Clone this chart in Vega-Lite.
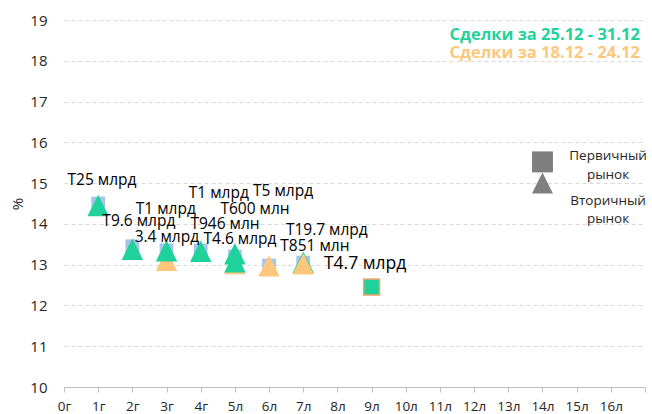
{
  "$schema": "https://vega.github.io/schema/vega-lite/v6.json",
  "width": 581,
  "height": 367,
  "autosize": {"type": "none"},
  "padding": {"left": 64, "top": 20, "right": 7, "bottom": 27},
  "background": "white",
  "config": {"view": {"stroke": null}, "font": "Open Sans"},
  "datasets": {
    "blue": [
      {"x": 1, "y": 14.5}, {"x": 2, "y": 13.45}, {"x": 3, "y": 13.35}, {"x": 4, "y": 13.35},
      {"x": 5, "y": 13.2}, {"x": 6, "y": 12.98}, {"x": 7, "y": 13.05}
    ],
    "tri": [
      {"x": 1, "y": 14.45, "s": "g"},
      {"x": 2, "y": 13.38, "s": "g"},
      {"x": 3, "y": 13.11, "s": "o"},
      {"x": 3, "y": 13.34, "s": "g"},
      {"x": 4, "y": 13.33, "s": "g"},
      {"x": 5, "y": 13.03, "s": "o"},
      {"x": 5, "y": 13.07, "s": "g"},
      {"x": 5, "y": 13.27, "s": "g"},
      {"x": 6, "y": 12.97, "s": "o"},
      {"x": 7, "y": 13.06, "s": "g"},
      {"x": 7, "y": 13.02, "s": "o"}
    ],
    "sq": [{"x": 9, "y": 12.45}],
    "leg": [
      {"x": 14, "y": 15.52, "shape": "square"},
      {"x": 14, "y": 15.0, "shape": "M0,-1L1,1L-1,1Z"}
    ],
    "ann": [
      {"x": 1.11, "y": 15.08, "t": "T25 млрд", "fs": 15.5},
      {"x": 2.19, "y": 14.07, "t": "T9.6 млрд", "fs": 15.5},
      {"x": 2.98, "y": 14.37, "t": "T1 млрд", "fs": 15.5},
      {"x": 3.01, "y": 13.68, "t": "3.4 млрд", "fs": 15.5},
      {"x": 4.53, "y": 14.76, "t": "T1 млрд", "fs": 15.5},
      {"x": 4.71, "y": 14.0, "t": "T946 млн", "fs": 15.5},
      {"x": 6.41, "y": 14.81, "t": "T5 млрд", "fs": 15.5},
      {"x": 5.59, "y": 14.37, "t": "T600 млн", "fs": 15.5},
      {"x": 5.15, "y": 13.63, "t": "T4.6 млрд", "fs": 15.5},
      {"x": 7.69, "y": 13.85, "t": "T19.7 млрд", "fs": 15.5},
      {"x": 7.34, "y": 13.46, "t": "T851 млн", "fs": 15.5},
      {"x": 8.81, "y": 13.02, "t": "T4.7 млрд", "fs": 17.5}
    ],
    "legtext": [
      {"x": 15.92, "y": 15.66, "t": "Первичный"},
      {"x": 15.92, "y": 15.2, "t": "рынок"},
      {"x": 15.92, "y": 14.56, "t": "Вторичный"},
      {"x": 15.92, "y": 14.12, "t": "рынок"}
    ],
    "top": [
      {"x": 16.85, "y": 18.62, "t": "Сделки за 25.12 - 31.12", "c": "g"},
      {"x": 16.85, "y": 18.19, "t": "Сделки за 18.12 - 24.12", "c": "o"}
    ]
  },
  "encoding": {
    "x": {
      "field": "x", "type": "quantitative",
      "scale": {"domain": [0, 17], "nice": false, "zero": false},
      "axis": {
        "values": [0,1,2,3,4,5,6,7,8,9,10,11,12,13,14,15,16,17],
        "labelExpr": "datum.value == 17 ? '' : (datum.value < 5 ? datum.value + 'г' : datum.value + 'л')",
        "grid": false, "title": null,
        "domainColor": "#bfbfbf", "tickColor": "#bfbfbf", "tickSize": 5,
        "labelFontSize": 13.5, "labelColor": "#262626", "labelPadding": 7,
        "labelOverlap": false, "labelFlush": false
      }
    },
    "y": {
      "field": "y", "type": "quantitative",
      "scale": {"domain": [10, 19], "nice": false, "zero": false},
      "axis": {
        "values": [10,11,12,13,14,15,16,17,18,19],
        "grid": true, "gridDash": [4, 3], "gridColor": "#d9d9d9",
        "domain": false, "ticks": false,
        "labelFontSize": 15, "labelColor": "#262626", "labelPadding": 17,
        "title": "%", "titleFontSize": 15, "titleFontWeight": "normal", "titleColor": "#262626",
        "titlePadding": 4
      }
    }
  },
  "layer": [
    {
      "data": {"name": "blue"},
      "mark": {"type": "point", "shape": "square", "filled": true, "size": 190, "color": "#a9c4ea", "opacity": 1}
    },
    {
      "data": {"name": "blue"},
      "mark": {"type": "point", "shape": "M0,-1L1,1L-1,1Z", "filled": true, "size": 200, "color": "#5f7d2a", "opacity": 1}
    },
    {
      "data": {"name": "tri"},
      "mark": {"type": "point", "shape": "M0,-1L1,1L-1,1Z", "filled": true, "size": 460, "opacity": 1},
      "encoding": {
        "color": {"field": "s", "type": "nominal", "scale": {"domain": ["g", "o"], "range": ["#1fd19b", "#fec77b"]}, "legend": null}
      }
    },
    {
      "data": {"name": "sq"},
      "mark": {"type": "point", "shape": "square", "filled": true, "size": 256, "color": "#1fd19b", "stroke": "#f5a46a", "strokeWidth": 1.5, "opacity": 1}
    },
    {
      "data": {"name": "leg"},
      "mark": {"type": "point", "filled": true, "size": 440, "color": "#7f7f7f", "opacity": 1},
      "encoding": {"shape": {"field": "shape", "type": "nominal", "scale": null, "legend": null}}
    },
    {
      "data": {"name": "ann"},
      "mark": {"type": "text", "align": "center", "baseline": "middle", "color": "#000000"},
      "encoding": {
        "text": {"field": "t"},
        "size": {"field": "fs", "type": "quantitative", "scale": null, "legend": null}
      }
    },
    {
      "data": {"name": "legtext"},
      "mark": {"type": "text", "align": "center", "baseline": "middle", "fontSize": 13.5, "color": "#262626"},
      "encoding": {"text": {"field": "t"}}
    },
    {
      "data": {"name": "top"},
      "mark": {"type": "text", "align": "right", "baseline": "middle", "fontSize": 16.5, "fontWeight": "bold"},
      "encoding": {
        "text": {"field": "t"},
        "color": {"field": "c", "type": "nominal", "scale": {"domain": ["g", "o"], "range": ["#1fd19b", "#fec77b"]}, "legend": null}
      }
    }
  ]
}
